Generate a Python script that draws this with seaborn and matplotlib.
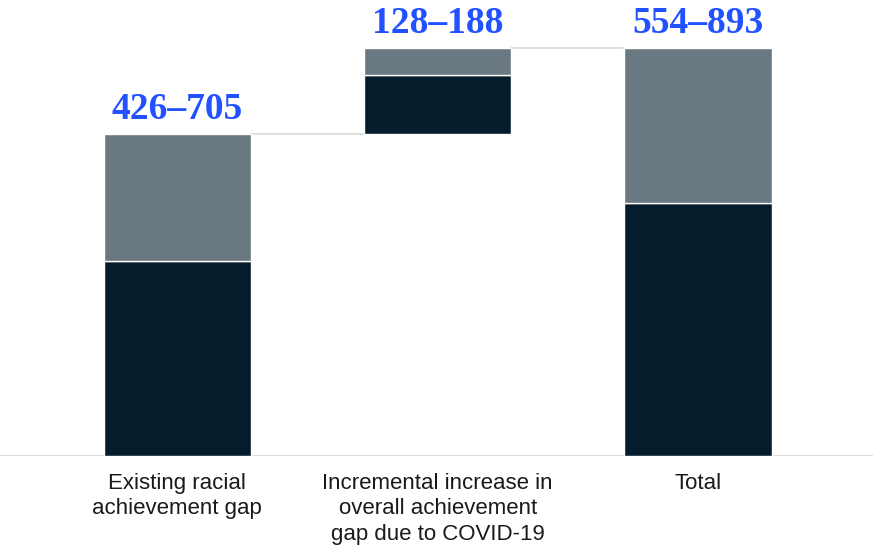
import numpy as np
import pandas as pd
import seaborn as sns
import matplotlib.pyplot as plt

# values (range low-high per bar)
categories = ["Existing racial\nachievement gap",
              "Incremental increase in\noverall achievement\ngap due to COVID-19",
              "Total"]
low = [426, 128, 554]
high = [705, 188, 893]
base = [0, 705, 0]
range_labels = ["426\u2013705", "128\u2013188", "554\u2013893"]

sns.set_theme(style="white")
plt.rcParams['font.family'] = ['Liberation Sans', 'DejaVu Sans']

df = pd.DataFrame({"cat": categories, "low": low, "high": high, "base": base})
df["top"] = df["high"] - df["low"]

dark = "#051c2c"
grey = "#6a7881"
blue = "#2251ff"
line_grey = "#dcdcdc"
width = 0.565

fig = plt.figure(figsize=(8.73, 5.46), dpi=100)
ax = fig.add_axes([0, 90 / 546, 1, 456 / 546])

sns.barplot(data=df, x="cat", y="low", bottom=df["base"].values, color=dark,
            width=width, edgecolor="white", linewidth=1, saturation=1, ax=ax)
sns.barplot(data=df, x="cat", y="top", bottom=(df["base"] + df["low"]).values,
            color=grey, width=width, edgecolor="white", linewidth=1,
            saturation=1, ax=ax)

# connectors between bars
ends = df["base"] + df["high"]
for i in range(len(df) - 1):
    ax.plot([i + width / 2, i + 1 - width / 2], [ends[i], ends[i]],
            color=line_grey, lw=1.3, zorder=0)

ax.axhline(0, color=line_grey, lw=1.5, zorder=0)

for i, lab in enumerate(range_labels):
    ax.text(i, ends[i] + 16, lab, ha="center", va="bottom", color=blue,
            fontsize=27, fontweight="bold", family=["Liberation Serif"])

ax.set_xlim(-0.681, 2.672)
ax.set_ylim(0, 998)
ax.set_xlabel("")
ax.set_ylabel("")
ax.set_yticks([])
ax.tick_params(axis="x", length=0, pad=12, labelsize=16, colors="#1a1a1a")
for lbl in ax.get_xticklabels():
    lbl.set_linespacing(1.3)
sns.despine(ax=ax, left=True, bottom=True)

fig.savefig("out.png", dpi=100)
